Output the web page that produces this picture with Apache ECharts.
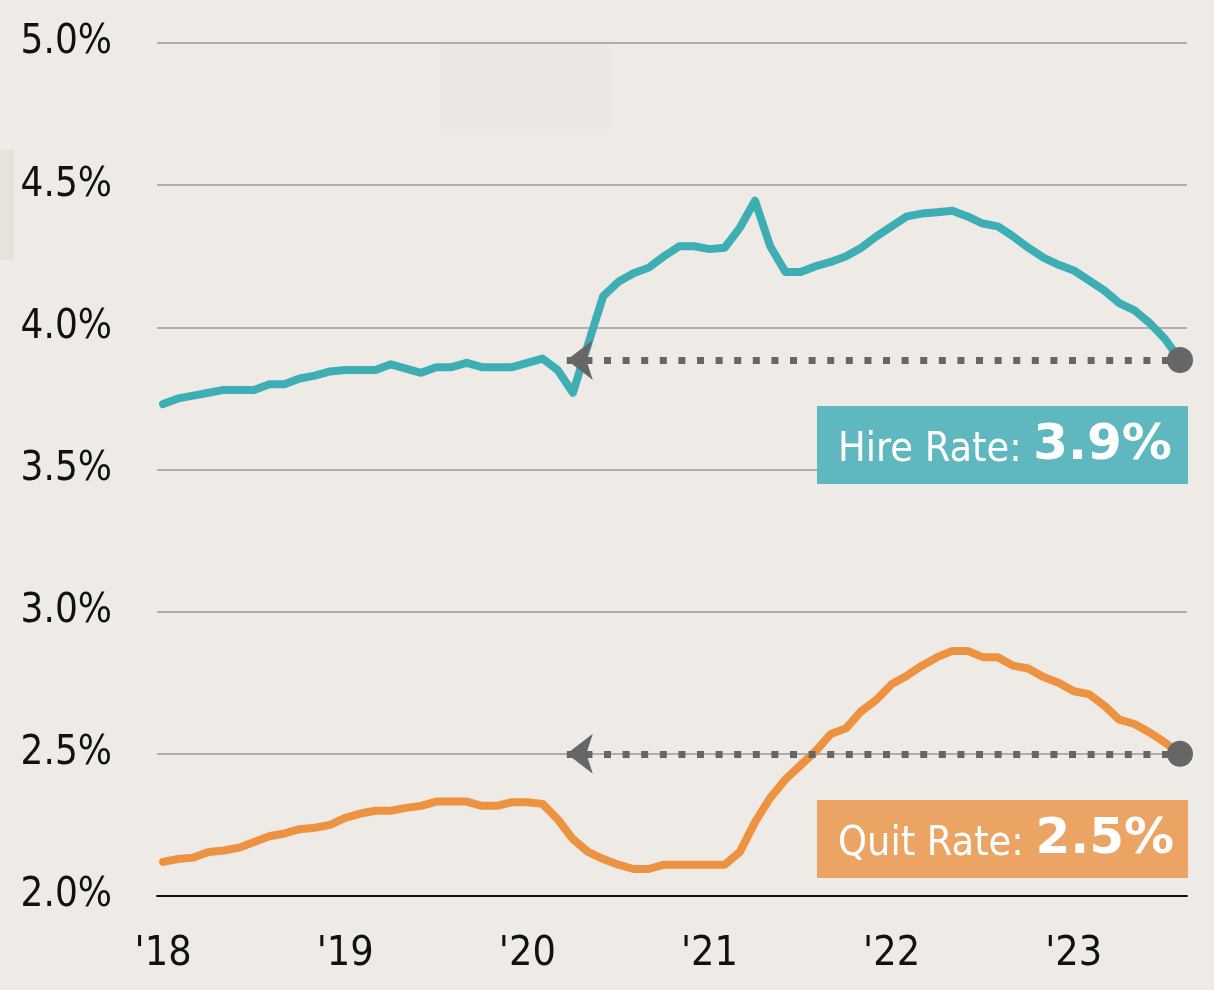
<!DOCTYPE html>
<html>
<head>
<meta charset="utf-8">
<script src="https://cdn.jsdelivr.net/npm/echarts@6/dist/echarts.min.js"></script>
<style>
  html, body { margin: 0; padding: 0; background: #eeeae5; }
  #chart { width: 1214px; height: 990px; }
</style>
</head>
<body>
<div id="chart"></div>
<script>
// monthly, Jan 2018 .. Aug 2023
var yearLabels = ["'18", "'19", "'20", "'21", "'22", "'23"];
var hireRate = [
  3.73, 3.75, 3.76, 3.77, 3.78, 3.78, 3.78, 3.80, 3.80, 3.82, 3.83, 3.845,
  3.85, 3.85, 3.85, 3.87, 3.855, 3.84, 3.86, 3.86, 3.875, 3.86, 3.86, 3.86,
  3.875, 3.89, 3.85, 3.77, 3.94, 4.11, 4.16, 4.19, 4.21, 4.25, 4.285, 4.285,
  4.275, 4.28, 4.35, 4.445, 4.285, 4.195, 4.195, 4.215, 4.23, 4.25, 4.28, 4.32,
  4.355, 4.39, 4.40, 4.405, 4.41, 4.39, 4.365, 4.355, 4.32, 4.28, 4.245, 4.22,
  4.20, 4.165, 4.13, 4.085, 4.06, 4.015, 3.96, 3.885
];
var quitRate = [
  2.12, 2.13, 2.135, 2.155, 2.16, 2.17, 2.19, 2.21, 2.22, 2.235, 2.24, 2.25,
  2.275, 2.29, 2.30, 2.30, 2.31, 2.317, 2.332, 2.332, 2.332, 2.317, 2.317, 2.33,
  2.33, 2.324, 2.27, 2.20, 2.155, 2.13, 2.11, 2.095, 2.095, 2.11, 2.11, 2.11,
  2.11, 2.11, 2.155, 2.26, 2.345, 2.41, 2.46, 2.51, 2.57, 2.59, 2.65, 2.69,
  2.745, 2.775, 2.81, 2.84, 2.862, 2.862, 2.84, 2.84, 2.81, 2.80, 2.77, 2.75,
  2.72, 2.71, 2.67, 2.62, 2.605, 2.575, 2.54, 2.50
];
var hireLabel = "3.9%";
var quitLabel = "2.5%";
var arrowFrom = 26.6; // where the dotted arrows stop (month index)

var narrow = '"DejaVu Sans Condensed", "Liberation Sans Narrow", sans-serif';

function pairs(arr) {
  return arr.map(function (v, i) { return [i, v]; });
}

function arrowLine(arr) {
  var last = arr.length - 1;
  return {
    silent: true,
    symbol: ['arrow', 'circle'],
    symbolSize: [30, 26],
    lineStyle: { color: '#666666', width: 7, type: [7, 11.6], cap: 'butt', opacity: 1 },
    itemStyle: { color: '#666666' },
    label: { show: false },
    emphasis: { disabled: true },
    data: [[{ coord: [arrowFrom, arr[last]] }, { coord: [last, arr[last]] }]]
  };
}

var chart = echarts.init(document.getElementById('chart'));
chart.setOption({
  animation: false,
  backgroundColor: '#eeeae5',
  grid: { left: 157, right: 27, top: 43, bottom: 94 },
  xAxis: {
    type: 'value',
    min: -0.4,
    max: 67.46,
    axisLine: { show: true, onZero: false, lineStyle: { color: '#111111', width: 2 } },
    axisTick: { show: false },
    splitLine: { show: false },
    axisLabel: {
      customValues: [0, 12, 24, 36, 48, 60],
      formatter: function (v) { return yearLabels[Math.round(v / 12)]; },
      color: '#111111',
      fontFamily: narrow,
      fontSize: 41,
      margin: 38
    }
  },
  yAxis: {
    type: 'value',
    min: 2,
    max: 5,
    interval: 0.5,
    axisLine: { show: false },
    axisTick: { show: false },
    splitLine: { lineStyle: { color: '#9a9a9a', width: 1.5 } },
    axisLabel: {
      formatter: function (v) { return v.toFixed(1) + '%'; },
      color: '#111111',
      fontFamily: narrow,
      fontSize: 40,
      margin: 45
    }
  },
  series: [
    {
      name: 'Hire Rate',
      type: 'line',
      data: pairs(hireRate),
      showSymbol: false,
      lineStyle: { color: '#3eaeb5', width: 8, cap: 'round', join: 'round' },
      markLine: arrowLine(hireRate)
    },
    {
      name: 'Quit Rate',
      type: 'line',
      data: pairs(quitRate),
      showSymbol: false,
      lineStyle: { color: '#ec9240', width: 8, cap: 'round', join: 'round' },
      markLine: arrowLine(quitRate)
    }
  ],
  graphic: [
    // faint wood-like patches
    { type: 'rect', z: -10, shape: { x: 0, y: 150, width: 14, height: 110 }, style: { fill: 'rgba(180,165,150,0.10)' } },
    { type: 'rect', z: -10, shape: { x: 440, y: 40, width: 170, height: 90 }, style: { fill: 'rgba(200,190,180,0.04)' } },
    {
      type: 'rect', z: 10,
      shape: { x: 817, y: 406, width: 371, height: 78 },
      style: { fill: '#5fb8bf' }
    },
    {
      type: 'text', z: 11, left: 838, top: 421,
      style: {
        text: '{a|Hire Rate: }{b|' + hireLabel + '}',
        rich: {
          a: { fill: '#ffffff', fontFamily: narrow, fontSize: 41, verticalAlign: 'bottom' },
          b: { fill: '#ffffff', fontFamily: '"DejaVu Sans", sans-serif', fontWeight: 'bold', fontSize: 50, verticalAlign: 'bottom' }
        }
      }
    },
    {
      type: 'rect', z: 10,
      shape: { x: 817, y: 800, width: 371, height: 78 },
      style: { fill: '#eba464' }
    },
    {
      type: 'text', z: 11, left: 838, top: 815,
      style: {
        text: '{a|Quit Rate: }{b|' + quitLabel + '}',
        rich: {
          a: { fill: '#ffffff', fontFamily: narrow, fontSize: 41, verticalAlign: 'bottom' },
          b: { fill: '#ffffff', fontFamily: '"DejaVu Sans", sans-serif', fontWeight: 'bold', fontSize: 50, verticalAlign: 'bottom' }
        }
      }
    }
  ]
});
</script>
</body>
</html>
